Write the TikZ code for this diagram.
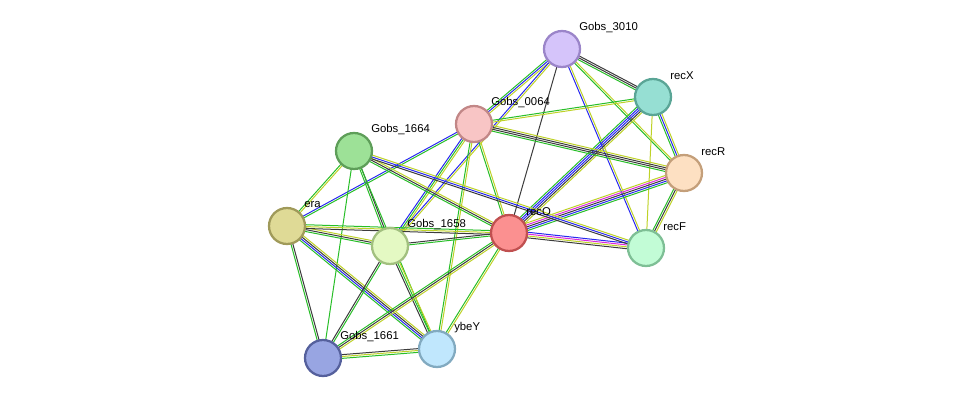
\documentclass[tikz,border=0pt]{standalone}
\usepackage{fontspec}
\setmainfont{Liberation Sans}
\usetikzlibrary{calc}
\definecolor{eG}{RGB}{40,190,40}
\definecolor{eB}{RGB}{40,40,240}
\definecolor{eK}{RGB}{60,60,60}
\definecolor{eY}{RGB}{190,210,40}
\definecolor{eM}{RGB}{220,40,220}
\tikzset{
  prot/.style={circle, inner sep=0pt, line width=1.7pt, minimum size=27pt},
  lbl/.style={anchor=west, inner sep=0pt, font=\fontsize{8.5}{10}\selectfont},
  wire/.style={line width=0.75pt}
}
\newcommand\link[3]{%
  \foreach \c [count=\i] in {#3} {\xdef\nlinks{\i}}%
  \foreach \c [count=\i] in {#3} {%
    \pgfmathsetmacro\off{(\i-(\nlinks+1)/2)*1.4}%
    \draw[wire, \c] ($(#1)!\off pt!90:(#2)$) -- ($(#2)!\off pt!-90:(#1)$);
  }%
}
\newcommand\prot[4]{%
  \definecolor{#1-fill}{HTML}{#2}%
  \definecolor{#1-draw}{HTML}{#3}%
  \node[prot, fill=#1-fill, draw=#1-draw] (#1-c) at (#1) {};
  \node[lbl] (#1-l) at ($(#1)+(17,-21)$) {#4};
}
\begin{document}
\begin{tikzpicture}[x=0.75pt, y=-0.75pt]
\useasboundingbox (0,0) rectangle (975,404);

\coordinate (g3010) at (562,49);
\coordinate (recX) at (653,97);
\coordinate (g0064) at (474,124);
\coordinate (recR) at (684,173);
\coordinate (g1664) at (354,151);
\coordinate (era) at (287,226);
\coordinate (g1658) at (390,246);
\coordinate (recO) at (509,233);
\coordinate (recF) at (646,248);
\coordinate (ybeY) at (437,349);
\coordinate (g1661) at (323,358);

% edges
\link{g3010}{recX}{eG,eK,eK}
\link{g3010}{recR}{eG,eY}
\link{g3010}{recF}{eB,eY}
\link{g3010}{g0064}{eG,eB,eY}
\link{g3010}{recO}{eK}
\link{g3010}{g1658}{eB,eY}
\link{recX}{g0064}{eG,eY}
\link{recX}{recO}{eG,eB,eB,eK,eY}
\link{recX}{recR}{eG,eB,eY}
\link{recX}{recF}{eY}
\link{g0064}{recR}{eG,eK,eK,eY}
\link{g0064}{recO}{eG,eY}
\link{g0064}{g1658}{eB,eG,eY}
\link{g0064}{era}{eB,eG}
\link{g0064}{ybeY}{eG,eY}
\link{recR}{recO}{eY,eM,eK,eB,eG}
\link{recR}{recF}{eG,eK,eY}
\link{recO}{recF}{eK,eY,eM,eB}
\link{g1664}{recO}{eG,eK,eY}
\link{g1664}{recF}{eK,eB,eY}
\link{g1664}{era}{eG,eY}
\link{g1664}{g1658}{eG,eK}
\link{g1664}{ybeY}{eG}
\link{g1664}{g1661}{eG}
\link{era}{g1658}{eG,eK,eY}
\link{era}{recO}{eK,eY,eG}
\link{era}{ybeY}{eG,eB,eK,eY}
\link{era}{g1661}{eG,eK}
\link{g1658}{recO}{eG,eK}
\link{g1658}{ybeY}{eK,eG,eY}
\link{g1658}{g1661}{eK,eG}
\link{recO}{ybeY}{eG,eY}
\link{recO}{g1661}{eG,eK,eY}
\link{g1661}{ybeY}{eG,eY,eK}

% proteins
\prot{g3010}{D5C4FA}{9B85C9}{Gobs\_3010}
\prot{recX}{96DFD3}{5AA596}{recX}
\prot{g0064}{F8C5C5}{C28787}{Gobs\_0064}
\prot{recR}{FDE0C2}{C49F7A}{recR}
\prot{g1664}{9DE197}{5E9E59}{Gobs\_1664}
\prot{era}{DFDA96}{A09A5A}{era}
\prot{g1658}{E4F9C3}{A2C07F}{Gobs\_1658}
\prot{recO}{FB9090}{C05050}{recO}
\prot{recF}{C2FCD6}{7EBF95}{recF}
\prot{ybeY}{C0E7FD}{82AAC0}{ybeY}
\prot{g1661}{98A5E2}{55609C}{Gobs\_1661}
\end{tikzpicture}
\end{document}
